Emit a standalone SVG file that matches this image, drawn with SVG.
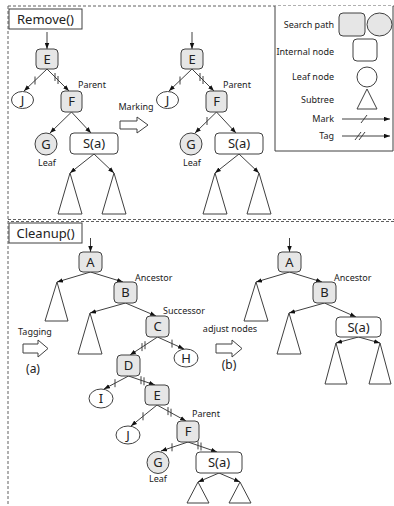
<svg xmlns="http://www.w3.org/2000/svg" width="394" height="506" viewBox="0 0 394 506">
<style>
text{font-family:"Noto Sans","DejaVu Sans",sans-serif;fill:#222}
.n{font-size:13px;text-anchor:middle}
.t{font-size:13px;text-anchor:middle}
.s{font-size:9px}
.sc{font-size:9px;text-anchor:middle}
.le{font-size:9px;text-anchor:end}
.p{font-size:12px;text-anchor:middle}
.sp{fill:#e6e6e6;stroke:#404040;stroke-width:1}
.in{fill:#fff;stroke:#404040;stroke-width:1}
.tri{fill:#fff;stroke:#404040;stroke-width:1}
.e{stroke:#404040;stroke-width:1;fill:none;marker-end:url(#ah)}
.tk{stroke:#404040;stroke-width:1;fill:none}
.dash{stroke:#606060;stroke-width:1;stroke-dasharray:3,2;fill:none}
.blk{fill:#fff;stroke:#404040;stroke-width:1}
.box{fill:#fff;stroke:#404040;stroke-width:1}
</style>
<defs>
<marker id="ah" viewBox="0 0 8 6" refX="8" refY="3" markerWidth="6" markerHeight="5" orient="auto" markerUnits="userSpaceOnUse">
<path d="M0,0 L8,3 L0,6 z" fill="#111"/>
</marker>
</defs>
<rect width="394" height="506" fill="#fff"/>
<g id="frame">
<line class="dash" x1="8" y1="6" x2="394" y2="6"/>
<line class="dash" x1="8" y1="6" x2="8" y2="506"/>
<line class="dash" x1="8" y1="219.5" x2="394" y2="219.5" stroke-dasharray="3,1.5"/>
<line class="dash" x1="8" y1="221.5" x2="394" y2="221.5" stroke-dasharray="3,1.5" stroke-dashoffset="2"/>
</g>
<g id="legend">
<path d="M275,6 V151 H393 V6" fill="#fff" stroke="#404040" stroke-width="1"/>
<text class="le" x="334" y="28">Search path</text>
<rect class="sp" x="339" y="13" width="26" height="23" rx="4"/>
<ellipse class="sp" cx="379.5" cy="24.5" rx="12.5" ry="11.5"/>
<text class="le" x="334" y="55">Internal node</text>
<rect class="in" x="353" y="39" width="24" height="22" rx="4"/>
<text class="le" x="334" y="80">Leaf node</text>
<circle class="in" cx="367" cy="77" r="10"/>
<text class="le" x="334" y="103">Subtree</text>
<path class="tri" d="M367,89 L377,109 L357,109 Z"/>
<text class="le" x="334" y="122">Mark</text>
<line class="e" x1="342" y1="119" x2="390" y2="119"/>
<path class="tk" d="M361,123 L367,115"/>
<text class="le" x="334" y="139">Tag</text>
<line class="e" x1="342" y1="136" x2="390" y2="136"/>
<path class="tk" d="M355,140 L361,132 M359,140 L365,132"/>
</g>
<g id="title-remove">
<rect class="box" x="9" y="9" width="73" height="20"/>
<text class="t" x="45.5" y="24">Remove()</text>
</g>
<g id="title-cleanup">
<rect class="box" x="9" y="223" width="73" height="20"/>
<text class="t" x="45.5" y="238">Cleanup()</text>
</g>
<g id="connectors">
<!-- Remove: tree 1 -->
<line class="e" x1="47" y1="32" x2="47" y2="49"/>
<line class="e" x1="47" y1="69" x2="24" y2="91"/>
<path class="tk" d="M35,76.5 V84.5"/>
<line class="e" x1="47" y1="69" x2="69" y2="91"/>
<path class="tk" d="M55,73 V81 M58,76 V84"/>
<line class="e" x1="71.5" y1="112" x2="50" y2="133"/>
<line class="e" x1="71.5" y1="112" x2="91" y2="133"/>
<line class="e" x1="94" y1="154" x2="70" y2="173"/>
<line class="e" x1="94" y1="154" x2="114" y2="173"/>
<!-- Remove: tree 2 -->
<line class="e" x1="192" y1="32" x2="192" y2="49"/>
<line class="e" x1="192" y1="69" x2="169" y2="91"/>
<path class="tk" d="M180,76.5 V84.5"/>
<line class="e" x1="192" y1="69" x2="214" y2="91"/>
<path class="tk" d="M200,73 V81 M203,76 V84"/>
<line class="e" x1="216.5" y1="112" x2="195" y2="133"/>
<path class="tk" d="M207,117 V125"/>
<line class="e" x1="216.5" y1="112" x2="236" y2="133"/>
<line class="e" x1="239" y1="154" x2="215" y2="173"/>
<line class="e" x1="239" y1="154" x2="259" y2="173"/>
<!-- Cleanup: left tree -->
<line class="e" x1="90.5" y1="238" x2="90.5" y2="252"/>
<line class="e" x1="90.5" y1="272" x2="57" y2="282"/>
<line class="e" x1="90.5" y1="272" x2="123" y2="282"/>
<line class="e" x1="125.5" y1="303" x2="90" y2="313"/>
<line class="e" x1="125.5" y1="303" x2="156" y2="316"/>
<line class="e" x1="157.5" y1="337" x2="130" y2="355"/>
<path class="tk" d="M145,341.2 V349.2 M142,343.1 V351.1"/>
<line class="e" x1="157.5" y1="337" x2="184" y2="349"/>
<path class="tk" d="M172,339.6 V347.6"/>
<line class="e" x1="128.5" y1="376" x2="104" y2="389"/>
<path class="tk" d="M115,379.2 V387.2"/>
<line class="e" x1="128.5" y1="376" x2="155" y2="385"/>
<path class="tk" d="M141,376.2 V384.2 M144,377.3 V385.3"/>
<line class="e" x1="157" y1="405" x2="131" y2="426"/>
<path class="tk" d="M143,412.3 V420.3"/>
<line class="e" x1="157" y1="405" x2="186" y2="421"/>
<path class="tk" d="M168,407.1 V415.1 M171,408.7 V416.7"/>
<line class="e" x1="188" y1="442" x2="161" y2="451"/>
<path class="tk" d="M172,443.3 V451.3"/>
<line class="e" x1="188" y1="442" x2="217" y2="452"/>
<path class="tk" d="M198,441.4 V449.4 M201,442.5 V450.5"/>
<line class="e" x1="219" y1="473" x2="198" y2="482"/>
<line class="e" x1="219" y1="473" x2="240" y2="482"/>
<!-- Cleanup: right tree -->
<line class="e" x1="289.5" y1="238" x2="289.5" y2="252"/>
<line class="e" x1="289.5" y1="272" x2="256" y2="282"/>
<line class="e" x1="289.5" y1="272" x2="322" y2="282"/>
<line class="e" x1="324.5" y1="303" x2="289" y2="313"/>
<line class="e" x1="324.5" y1="303" x2="356" y2="317"/>
<line class="e" x1="358.5" y1="337" x2="336" y2="343"/>
<line class="e" x1="358.5" y1="337" x2="380" y2="343"/>
</g>
<!-- Remove tree 1 nodes -->
<g id="r1-E"><rect class="sp" x="36" y="49" width="22" height="20" rx="4"/><text class="n" x="47" y="64">E</text></g>
<g id="r1-J"><ellipse class="in" cx="22.5" cy="100" rx="11" ry="8.5"/><text class="n" x="22.5" y="104.5">J</text></g>
<g id="r1-F"><rect class="sp" x="61" y="91" width="21" height="21" rx="4"/><text class="n" x="71.5" y="106">F</text><text class="s" x="78" y="88">Parent</text></g>
<g id="r1-G"><circle class="sp" cx="46" cy="144" r="11"/><text class="n" x="46" y="148.5">G</text><text class="sc" x="47" y="166">Leaf</text></g>
<g id="r1-S"><rect class="in" x="70" y="133" width="48" height="21" rx="4"/><text class="n" x="94" y="148">S(a)</text></g>
<g id="r1-T1"><path class="tri" d="M70,173 L82,214 L58,214 Z"/></g>
<g id="r1-T2"><path class="tri" d="M114,173 L126,214 L102,214 Z"/></g>
<g id="marking">
<text class="sc" x="136" y="110">Marking</text>
<path class="blk" d="M120,121 H137 V117 L148,125 L137,133 V129 H120 Z"/>
</g>
<!-- Remove tree 2 nodes -->
<g id="r2-E"><rect class="sp" x="181" y="49" width="22" height="20" rx="4"/><text class="n" x="192" y="64">E</text></g>
<g id="r2-J"><ellipse class="in" cx="167.5" cy="100" rx="11" ry="8.5"/><text class="n" x="167.5" y="104.5">J</text></g>
<g id="r2-F"><rect class="sp" x="206" y="91" width="21" height="21" rx="4"/><text class="n" x="216.5" y="106">F</text><text class="s" x="223" y="88">Parent</text></g>
<g id="r2-G"><circle class="sp" cx="191" cy="144" r="11"/><text class="n" x="191" y="148.5">G</text><text class="sc" x="192" y="166">Leaf</text></g>
<g id="r2-S"><rect class="in" x="215" y="133" width="48" height="21" rx="4"/><text class="n" x="239" y="148">S(a)</text></g>
<g id="r2-T1"><path class="tri" d="M215,173 L227,214 L203,214 Z"/></g>
<g id="r2-T2"><path class="tri" d="M259,173 L271,214 L247,214 Z"/></g>
<!-- Cleanup left tree nodes -->
<g id="c1-A"><rect class="sp" x="79" y="252" width="23" height="20" rx="4"/><text class="n" x="90.5" y="266.5">A</text></g>
<g id="c1-TA"><path class="tri" d="M57,282 L68,321 L45,321 Z"/></g>
<g id="c1-B"><rect class="sp" x="114" y="282" width="23" height="21" rx="4"/><text class="n" x="125.5" y="297">B</text><text class="s" x="135" y="281">Ancestor</text></g>
<g id="c1-TB"><path class="tri" d="M90,313 L102,354 L78,354 Z"/></g>
<g id="c1-C"><rect class="sp" x="146" y="316" width="23" height="21" rx="4"/><text class="n" x="157.5" y="331">C</text><text class="s" x="163" y="314">Successor</text></g>
<g id="c1-H"><ellipse class="in" cx="186" cy="358" rx="12" ry="9"/><text class="n" x="186" y="362.5">H</text></g>
<g id="c1-D"><rect class="sp" x="117" y="355" width="23" height="21" rx="4"/><text class="n" x="128.5" y="370">D</text></g>
<g id="c1-I"><ellipse class="in" cx="101" cy="398.5" rx="12" ry="9.5"/><text class="n" x="101" y="403">I</text></g>
<g id="c1-E"><rect class="sp" x="145" y="385" width="24" height="20" rx="4"/><text class="n" x="157" y="399.5">E</text></g>
<g id="c1-J"><ellipse class="in" cx="128" cy="435" rx="12" ry="9"/><text class="n" x="128" y="439.5">J</text></g>
<g id="c1-F"><rect class="sp" x="177" y="421" width="22" height="21" rx="4"/><text class="n" x="188" y="436">F</text><text class="s" x="192" y="417">Parent</text></g>
<g id="c1-G"><circle class="sp" cx="158" cy="462.5" r="11"/><text class="n" x="158" y="467">G</text><text class="sc" x="158" y="481.5">Leaf</text></g>
<g id="c1-S"><rect class="in" x="196" y="452" width="46" height="21" rx="4"/><text class="n" x="219" y="467">S(a)</text></g>
<g id="c1-T1"><path class="tri" d="M198,482 L209,503 L187,503 Z"/></g>
<g id="c1-T2"><path class="tri" d="M240,482 L251,503 L229,503 Z"/></g>
<g id="tagging">
<text class="sc" x="35" y="335">Tagging</text>
<path class="blk" d="M23,344 H38 V340 L48,348.5 L38,357 V353 H23 Z"/>
<text class="p" x="33" y="373">(a)</text>
</g>
<g id="adjust">
<text class="sc" x="230" y="332">adjust nodes</text>
<path class="blk" d="M216,344 H232 V340 L242,348.5 L232,357 V353 H216 Z"/>
<text class="p" x="229" y="369">(b)</text>
</g>
<!-- Cleanup right tree nodes -->
<g id="c2-A"><rect class="sp" x="278" y="252" width="23" height="20" rx="4"/><text class="n" x="289.5" y="266.5">A</text></g>
<g id="c2-TA"><path class="tri" d="M256,282 L268,321 L244,321 Z"/></g>
<g id="c2-B"><rect class="sp" x="313" y="282" width="23" height="21" rx="4"/><text class="n" x="324.5" y="297">B</text><text class="s" x="334" y="281">Ancestor</text></g>
<g id="c2-TB"><path class="tri" d="M289,313 L301,354 L277,354 Z"/></g>
<g id="c2-S"><rect class="in" x="336" y="317" width="45" height="20" rx="4"/><text class="n" x="358.5" y="331.5">S(a)</text></g>
<g id="c2-T1"><path class="tri" d="M336,343 L347,384 L325,384 Z"/></g>
<g id="c2-T2"><path class="tri" d="M380,343 L391,384 L369,384 Z"/></g>
</svg>
